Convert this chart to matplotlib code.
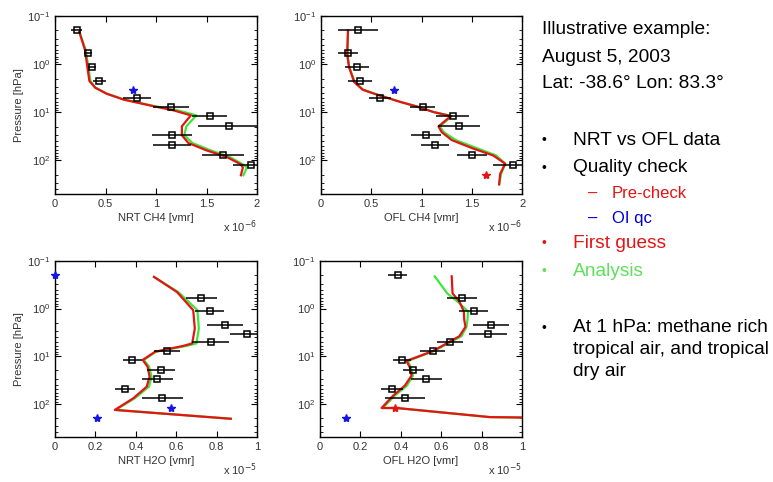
import numpy as np
import matplotlib.pyplot as plt

plt.rcParams['font.family'] = ['Liberation Sans', 'DejaVu Sans']

# observation pressure levels (hPa), same for all four panels
obs_p = [0.2, 0.6, 1.15, 2.2, 3.4, 5.0, 7.8, 12.2, 19.5, 30, 48, 77, 125, 200]

# qc flag per level: 0 = used, 1 = rejected by pre-check, 2 = rejected by OI qc, -1 = no obs
# CH4 values in units of 1e-6, H2O values in units of 1e-5
nrt_ch4 = [0.215, 0.33, 0.364, 0.44, 0.77, 0.81, 1.147, 1.53, 1.72, 1.16, 1.157, 1.666, 1.94, np.nan]
nrt_ch4_err = [0.056, 0.04, 0.04, 0.06, 0, 0.14, 0.18, 0.17, 0.30, 0.20, 0.19, 0.21, 0.18, 0]
nrt_ch4_flag = [0, 0, 0, 0, 2, 0, 0, 0, 0, 0, 0, 0, 0, -1]

ofl_ch4 = [0.364, 0.268, 0.354, 0.387, 0.727, 0.588, 1.01, 1.31, 1.37, 1.04, 1.134, 1.50, 1.91, 1.64]
ofl_ch4_err = [0.20, 0.10, 0.12, 0.12, 0, 0.11, 0.125, 0.165, 0.21, 0.15, 0.14, 0.145, 0.20, 0]
ofl_ch4_flag = [0, 0, 0, 0, 2, 0, 0, 0, 0, 0, 0, 0, 0, 1]

nrt_h2o = [0.0, 0.725, 0.765, 0.84, 0.95, 0.77, 0.554, 0.383, 0.524, 0.507, 0.346, 0.532, 0.576, 0.21]
nrt_h2o_err = [0, 0.078, 0.07, 0.09, 0.083, 0.09, 0.065, 0.047, 0.07, 0.075, 0.05, 0.10, 0, 0]
nrt_h2o_flag = [2, 0, 0, 0, 0, 0, 0, 0, 0, 0, 0, 0, 2, 2]

ofl_h2o = [0.384, 0.705, 0.76, 0.847, 0.834, 0.643, 0.557, 0.404, 0.461, 0.527, 0.356, 0.42, 0.37, 0.128]
ofl_h2o_err = [0.045, 0.074, 0.072, 0.09, 0.094, 0.064, 0.062, 0.045, 0.052, 0.077, 0.053, 0.10, 0, 0]
ofl_h2o_flag = [0, 0, 0, 0, 0, 0, 0, 0, 0, 0, 0, 0, 1, 2]

# model profiles: first guess (red) and analysis (green)
ch4_nrt_lev = [0.215, 0.52, 1.15, 2.24, 3.08, 4.11, 5.47, 7.5, 9.1, 11.6, 19.6, 30, 43.5, 62, 85, 121, 141, 204]
ch4_nrt_fg = [0.241, 0.298, 0.32, 0.34, 0.397, 0.51, 0.68, 0.975, 1.17, 1.345, 1.256, 1.256, 1.32, 1.50, 1.70, 1.84, 1.86, 1.84]
ch4_nrt_an = [0.241, 0.305, 0.33, 0.35, 0.40, 0.51, 0.69, 0.99, 1.21, 1.40, 1.30, 1.28, 1.36, 1.54, 1.73, 1.86, 1.90, 1.865]

ch4_ofl_lev = [0.2, 0.62, 1.15, 2.36, 3.4, 4.3, 6.1, 7.6, 9.9, 12, 19.7, 26, 38, 57, 79, 117, 190, 315]
ch4_ofl_fg = [0.268, 0.26, 0.278, 0.33, 0.413, 0.555, 0.787, 0.952, 1.117, 1.29, 1.167, 1.2, 1.30, 1.514, 1.71, 1.83, 1.78, 1.77]
ch4_ofl_an = [0.268, 0.262, 0.28, 0.335, 0.42, 0.56, 0.79, 0.955, 1.12, 1.30, 1.18, 1.22, 1.34, 1.56, 1.74, 1.83, 1.79, 1.77]

h2o_nrt_lev = [0.216, 0.45, 1.08, 2.62, 5.4, 6.1, 8.05, 12, 16.6, 27, 43.7, 76.6, 135, 207]
h2o_nrt_fg = [0.49, 0.604, 0.684, 0.692, 0.679, 0.634, 0.496, 0.434, 0.458, 0.468, 0.454, 0.388, 0.296, 0.87]
h2o_nrt_an = [0.49, 0.61, 0.705, 0.712, 0.70, 0.65, 0.50, 0.44, 0.465, 0.478, 0.465, 0.395, 0.30, 0.87]

h2o_ofl_lev = [0.21, 0.48, 0.71, 1.15, 1.71, 2.43, 3.8, 4.83, 7.76, 9.9, 12.6, 17.4, 25.7, 41.7, 67.6, 123, 123, 191, 195]
h2o_ofl_fg = [0.652, 0.656, 0.69, 0.712, 0.714, 0.72, 0.69, 0.647, 0.56, 0.494, 0.428, 0.445, 0.453, 0.42, 0.362, 0.305, 0.379, 0.84, 1.0]
h2o_ofl_an = [0.568, 0.63, 0.68, 0.733, 0.73, 0.725, 0.70, 0.655, 0.565, 0.50, 0.435, 0.45, 0.46, 0.43, 0.37, 0.31, 0.379, 0.84, 1.0]

RED = '#e41414'
GREEN = '#3ae83a'
BLUE = '#1414e6'
TXT = '#333333'

fig = plt.figure(figsize=(7.73, 4.82), dpi=100)


def panel(rect, lev, fg, an, vals, err, flag, xlabel, xmax, xticks, ticklabels, expo, ylabel):
    ax = fig.add_axes(rect)
    ax.set_yscale('log')
    ax.plot(an, lev, color=GREEN, lw=1.6, zorder=2)
    ax.plot(fg, lev, color=RED, lw=1.6, zorder=3)
    vals = np.array(vals, dtype=float)
    err = np.array(err, dtype=float)
    flag = np.array(flag)
    p = np.array(obs_p, dtype=float)
    ok = flag == 0
    ax.errorbar(vals[ok], p[ok], xerr=err[ok], fmt='s', mfc='none', mec='black',
                ms=5, mew=1.1, ecolor='black', elinewidth=1.1, capsize=0, zorder=4)
    pc = flag == 1
    ax.plot(vals[pc], p[pc], '*', color=RED, ms=6, zorder=5, clip_on=False)
    oi = flag == 2
    ax.plot(vals[oi], p[oi], '*', color=BLUE, ms=6, zorder=5, clip_on=False)
    ax.set_xlim(0, xmax)
    ax.set_ylim(500, 0.1)
    ax.set_xticks(xticks)
    ax.set_xticklabels(ticklabels)
    ax.set_yticks([0.1, 1, 10, 100])
    ax.tick_params(which='both', direction='in', top=True, right=True,
                   labelsize=8, labelcolor=TXT, color='black')
    ax.tick_params(which='major', length=4)
    ax.tick_params(which='minor', length=2)
    ax.set_xlabel(xlabel, fontsize=8, color=TXT, labelpad=3)
    if ylabel:
        ax.set_ylabel('Pressure [hPa]', fontsize=8, color=TXT, labelpad=2)
    ax.text(1.0, -0.185, 'x 10$^{%d}$' % expo, transform=ax.transAxes,
            ha='right', va='center', fontsize=8, color=TXT)
    for s in ax.spines.values():
        s.set_linewidth(1.0)
    return ax


ch4_ticks = [0, 0.5, 1, 1.5, 2]
ch4_lbl = ['0', '0.5', '1', '1.5', '2']
h2o_ticks = [0, 0.2, 0.4, 0.6, 0.8, 1]
h2o_lbl = ['0', '0.2', '0.4', '0.6', '0.8', '1']

panel([0.0712, 0.5975, 0.2613, 0.3693], ch4_nrt_lev, ch4_nrt_fg, ch4_nrt_an,
      nrt_ch4, nrt_ch4_err, nrt_ch4_flag, 'NRT CH4 [vmr]', 2, ch4_ticks, ch4_lbl, -6, True)
panel([0.4153, 0.5975, 0.2604, 0.3693], ch4_ofl_lev, ch4_ofl_fg, ch4_ofl_an,
      ofl_ch4, ofl_ch4_err, ofl_ch4_flag, 'OFL CH4 [vmr]', 2, ch4_ticks, ch4_lbl, -6, False)
panel([0.0712, 0.0934, 0.2613, 0.3651], h2o_nrt_lev, h2o_nrt_fg, h2o_nrt_an,
      nrt_h2o, nrt_h2o_err, nrt_h2o_flag, 'NRT H2O [vmr]', 1, h2o_ticks, h2o_lbl, -5, True)
panel([0.4140, 0.0934, 0.2613, 0.3651], h2o_ofl_lev, h2o_ofl_fg, h2o_ofl_an,
      ofl_h2o, ofl_h2o_err, ofl_h2o_flag, 'OFL H2O [vmr]', 1, h2o_ticks, h2o_lbl, -5, False)

# right-hand notes
H = 482.0
W = 773.0


def note(x, y, s, color='black', size=13.8):
    fig.text(x / W, 1 - y / H, s, ha='left', va='center', fontsize=size, color=color)


note(542, 30, 'Illustrative example:')
note(542, 57, 'August 5, 2003')
note(542, 83, 'Lat: -38.6\u00b0 Lon: 83.3\u00b0')

bullets = [(140, 'NRT vs OFL data', 'black'),
           (168, 'Quality check', 'black'),
           (243, 'First guess', RED),
           (271, 'Analysis', '#5ee05a'),
           (328, 'At 1 hPa: methane rich', 'black')]
for y, s, c in bullets:
    note(541, y, '\u2022', color=c, size=10)
    note(573, y, s, color=c)
note(573, 350, 'tropical air, and tropical')
note(573, 372, 'dry air')

note(588, 193, '\u2013', color=RED, size=12)
note(612, 193, 'Pre-check', color=RED, size=12)
note(588, 218, '\u2013', color='#0000cc', size=12)
note(612, 218, 'OI qc', color='#0000cc', size=12)

fig.savefig('out.png', dpi=100, facecolor='white')
